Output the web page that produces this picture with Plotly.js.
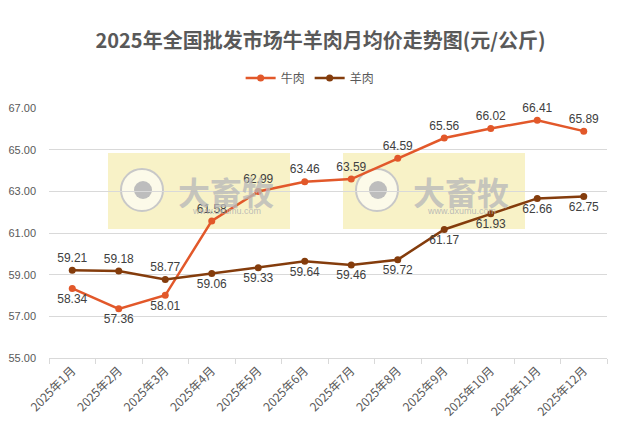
<!DOCTYPE html>
<html><head><meta charset="utf-8">
<script src="https://cdn.plot.ly/plotly-3.0.1.min.js"></script>
<style>html,body{margin:0;padding:0;background:#fff}</style>
</head><body>
<div id="chart" style="width:626px;height:427px"></div>
<script>
const months = ["2025年1月","2025年2月","2025年3月","2025年4月","2025年5月","2025年6月","2025年7月","2025年8月","2025年9月","2025年10月","2025年11月","2025年12月"];
const beef = [58.34,57.36,58.01,61.58,62.99,63.46,63.59,64.59,65.56,66.02,66.41,65.89];
const mutton = [59.21,59.18,58.77,59.06,59.33,59.64,59.46,59.72,61.17,61.93,62.66,62.75];
const beefPos = ["bottom center","bottom center","bottom center","top center","top center","top center","top center","top center","top center","top center","top center","top center"];
const muttonPos = ["top center","top center","top center","bottom center","bottom center","bottom center","bottom center","bottom center","bottom center","bottom center","bottom center","bottom center"];

const FONT = "'Liberation Sans','Noto Sans CJK SC',sans-serif";
const labelFont = {family: FONT, size: 12, color: '#404040'};

const traces = [
  {x: months, y: beef, name: '牛肉', type: 'scatter', mode: 'lines+markers+text',
   line: {color: '#E2582A', width: 2.5}, marker: {color: '#E2582A', size: 7},
   text: beef.map(v => v.toFixed(2)), textposition: beefPos, textfont: labelFont, cliponaxis: false},
  {x: months, y: mutton, name: '羊肉', type: 'scatter', mode: 'lines+markers+text',
   line: {color: '#843C0C', width: 2.5}, marker: {color: '#843C0C', size: 7},
   text: mutton.map(v => v.toFixed(2)), textposition: muttonPos, textfont: labelFont, cliponaxis: false}
];

// watermark helpers (pixel -> paper)
const L = 49, W = 558, B = 358, H = 250;
const px = v => (v - L) / W, py = v => (B - v) / H;
const shapes = [], annotations = [];
[0, 235].forEach(dx => {
  shapes.push({type: 'rect', xref: 'paper', yref: 'paper', layer: 'below',
    x0: px(108 + dx), x1: px(290 + dx), y0: py(229), y1: py(153),
    fillcolor: 'rgba(245,238,180,0.75)', line: {width: 0}});
  shapes.push({type: 'circle', xref: 'paper', yref: 'paper', layer: 'below',
    x0: px(121 + dx), x1: px(163 + dx), y0: py(211), y1: py(169),
    fillcolor: 'rgba(255,255,255,0.6)', line: {color: '#C8C8C8', width: 2}});
  shapes.push({type: 'circle', xref: 'paper', yref: 'paper', layer: 'below',
    x0: px(134 + dx), x1: px(152 + dx), y0: py(199), y1: py(181),
    fillcolor: '#BDBDBD', line: {width: 0}});
  annotations.push({xref: 'paper', yref: 'paper', x: px(226 + dx), y: py(191), text: '<b>大畜牧</b>',
    showarrow: false, font: {family: "'Noto Sans CJK SC',sans-serif", size: 32, color: 'rgba(185,185,185,0.8)'}, xanchor: 'center', yanchor: 'middle'});
  annotations.push({xref: 'paper', yref: 'paper', x: px(226 + dx), y: py(211), text: 'www.dxumu.com',
    showarrow: false, font: {family: FONT, size: 9, color: 'rgba(180,180,180,0.9)'}, xanchor: 'center', yanchor: 'middle'});
});

const layout = {
  width: 626, height: 427,
  margin: {l: 49, r: 19, t: 108, b: 69},
  paper_bgcolor: '#fff', plot_bgcolor: 'rgba(0,0,0,0)',
  title: {text: '<b>2025年全国批发市场牛羊肉月均价走势图(元/公斤)</b>', x: 0.512, xanchor: 'center', y: 0.905, yanchor: 'middle',
    font: {family: "'Noto Sans CJK SC',sans-serif", size: 20, color: '#595959'}},
  showlegend: true,
  legend: {orientation: 'h', x: 0.468, xanchor: 'center', y: 1.12, yanchor: 'middle',
    font: {family: "'Noto Sans CJK SC',sans-serif", size: 12, color: '#595959'}, itemwidth: 30, tracegroupgap: 0},
  xaxis: {type: 'category', range: [-0.5, 11.5], autorange: false, showgrid: false, showline: true, linecolor: '#D9D9D9', linewidth: 1,
    ticks: 'outside', tickson: 'boundaries', ticklen: 5, tickcolor: '#D9D9D9', tickangle: -45,
    automargin: false,
    tickfont: {family: "'Noto Sans CJK SC',sans-serif", size: 12, color: '#595959'}, zeroline: false},
  yaxis: {range: [55, 67], dtick: 2, tick0: 55, tickformat: '.2f', showgrid: true, gridcolor: '#D9D9D9',
    showline: false, zeroline: false, ticks: '', ticklen: 0, automargin: false, ticklabelstandoff: 12,
    tickfont: {family: FONT, size: 11, color: '#595959'}},
  shapes: shapes, annotations: annotations
};
Plotly.newPlot('chart', traces, layout, {displayModeBar: false, staticPlot: true});
</script>
</body></html>
